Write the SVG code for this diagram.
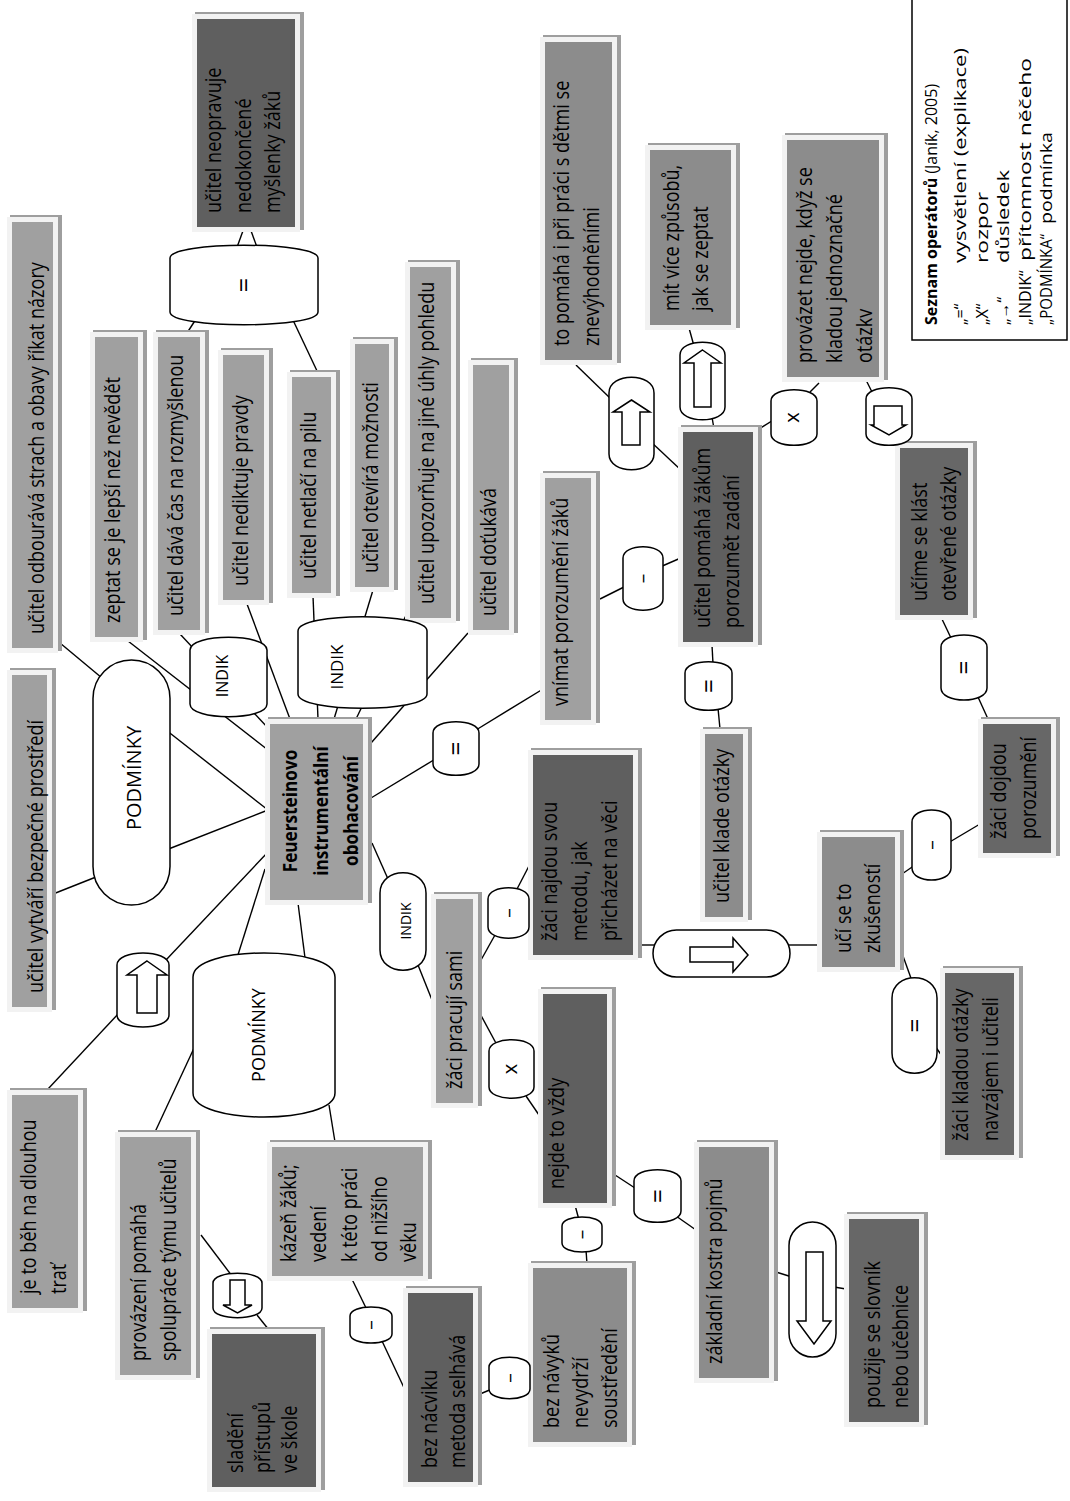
<svg xmlns="http://www.w3.org/2000/svg" width="1070" height="1501" viewBox="0 0 1070 1501">
<style>
.sh{fill:#9e9e9e}
.fr{fill:#f2f2f2}
.l{fill:#a0a0a0}
.m{fill:#8c8c8c}
.d{fill:#5f5f5f}
.d2{fill:#676767}
.t{font-family:"Open Sans","Noto Sans",sans-serif;font-size:21px;fill:#000}
.b{font-weight:bold;font-size:20px}
.o{fill:#fff;stroke:#000;stroke-width:1.5}
.ot{font-family:"Open Sans","Noto Sans",sans-serif;fill:#000;text-anchor:middle}
.lg{font-family:"Open Sans","Noto Sans",sans-serif;font-size:16px;fill:#000}
#connectors line{stroke:#000;stroke-width:1.4}
</style>
<rect width="1070" height="1501" fill="#fff"/>
<g id="connectors">
<line x1="236" y1="250" x2="244" y2="228"/>
<line x1="258" y1="250" x2="250" y2="228"/>
<line x1="187" y1="333" x2="198" y2="316"/>
<line x1="292" y1="318" x2="318" y2="373"/>
<line x1="60" y1="643" x2="102" y2="678"/>
<line x1="48" y1="896" x2="96" y2="877"/>
<line x1="268" y1="810" x2="166" y2="730"/>
<line x1="268" y1="810" x2="166" y2="850"/>
<line x1="128" y1="641" x2="268" y2="750"/>
<line x1="180" y1="634" x2="268" y2="728"/>
<line x1="244" y1="596" x2="290" y2="719"/>
<line x1="313" y1="596" x2="318" y2="719"/>
<line x1="373" y1="590" x2="334" y2="719"/>
<line x1="412" y1="603" x2="356" y2="719"/>
<line x1="468" y1="633" x2="371" y2="743"/>
<line x1="476" y1="730" x2="543" y2="689"/>
<line x1="371" y1="798" x2="437" y2="758"/>
<line x1="600" y1="599" x2="626" y2="586"/>
<line x1="660" y1="567" x2="683" y2="557"/>
<line x1="682" y1="471" x2="650" y2="441"/>
<line x1="611" y1="399" x2="576" y2="365"/>
<line x1="689" y1="328" x2="694" y2="346"/>
<line x1="712" y1="417" x2="714" y2="429"/>
<line x1="759" y1="429" x2="775" y2="419"/>
<line x1="810" y1="392" x2="819" y2="383"/>
<line x1="866" y1="380" x2="872" y2="392"/>
<line x1="712" y1="645" x2="713" y2="664"/>
<line x1="718" y1="708" x2="720" y2="729"/>
<line x1="941" y1="617" x2="951" y2="638"/>
<line x1="978" y1="697" x2="988" y2="719"/>
<line x1="902" y1="874" x2="915" y2="865"/>
<line x1="948" y1="843" x2="980" y2="824"/>
<line x1="903" y1="956" x2="912" y2="981"/>
<line x1="935" y1="1046" x2="942" y2="1056"/>
<line x1="788" y1="945" x2="819" y2="945"/>
<line x1="640" y1="945" x2="655" y2="945"/>
<line x1="481" y1="960" x2="495" y2="935"/>
<line x1="516" y1="891" x2="530" y2="864"/>
<line x1="477" y1="1008" x2="497" y2="1045"/>
<line x1="526" y1="1096" x2="539" y2="1115"/>
<line x1="372" y1="843" x2="388" y2="879"/>
<line x1="418" y1="965" x2="432" y2="1000"/>
<line x1="575" y1="1205" x2="579" y2="1220"/>
<line x1="586" y1="1250" x2="587" y2="1264"/>
<line x1="612" y1="1173" x2="638" y2="1190"/>
<line x1="676" y1="1216" x2="696" y2="1230"/>
<line x1="776" y1="1272" x2="792" y2="1277"/>
<line x1="834" y1="1287" x2="846" y2="1289"/>
<line x1="480" y1="1394" x2="492" y2="1389"/>
<line x1="349" y1="1273" x2="367" y2="1310"/>
<line x1="382" y1="1341" x2="406" y2="1392"/>
<line x1="201" y1="1235" x2="232" y2="1276"/>
<line x1="257" y1="1315" x2="269" y2="1330"/>
<line x1="265" y1="869" x2="237" y2="958"/>
<line x1="298" y1="903" x2="305" y2="958"/>
<line x1="195" y1="1046" x2="155" y2="1132"/>
<line x1="329" y1="1105" x2="335" y2="1142"/>
<line x1="268" y1="852" x2="166" y2="960"/>
<line x1="119" y1="1013" x2="48" y2="1089"/>
</g>

<g id="n-neopravuje"><rect class="sh" x="195" y="12" width="109" height="218"/><rect class="fr" x="192" y="14" width="108" height="218"/><rect class="d" x="197" y="19" width="98" height="208"/>
<text class="t" transform="translate(221,213) rotate(-90) scale(0.86,1)"><tspan x="0" y="0">učitel neopravuje</tspan><tspan x="0" y="30">nedokončené</tspan><tspan x="0" y="59">myšlenky žáků</tspan></text></g>
<g id="n-odbourava"><rect class="sh" x="10" y="215" width="52" height="436"/><rect class="fr" x="7" y="217" width="51" height="436"/><rect class="l" x="12" y="222" width="41" height="426"/>
<text class="t" transform="translate(44,634) rotate(-90) scale(0.86,1)">učitel odbourává strach a obavy říkat názory</text></g>
<g id="n-zeptat"><rect class="sh" x="93" y="330" width="54" height="310"/><rect class="fr" x="90" y="332" width="53" height="310"/><rect class="l" x="95" y="337" width="43" height="300"/>
<text class="t" transform="translate(120,623) rotate(-90) scale(0.86,1)">zeptat se je lepší než nevědět</text></g>
<g id="n-cas"><rect class="sh" x="156" y="330" width="53" height="303"/><rect class="fr" x="153" y="332" width="52" height="303"/><rect class="l" x="158" y="337" width="42" height="293"/>
<text class="t" transform="translate(183,616) rotate(-90) scale(0.86,1)">učitel dává čas na rozmyšlenou</text></g>
<g id="n-nediktuje"><rect class="sh" x="221" y="348" width="52" height="255"/><rect class="fr" x="218" y="350" width="51" height="255"/><rect class="l" x="223" y="355" width="41" height="245"/>
<text class="t" transform="translate(248,586) rotate(-90) scale(0.86,1)">učitel nediktuje pravdy</text></g>
<g id="n-netlaci"><rect class="sh" x="290" y="370" width="50" height="226"/><rect class="fr" x="287" y="372" width="49" height="226"/><rect class="l" x="292" y="377" width="39" height="216"/>
<text class="t" transform="translate(316,579) rotate(-90) scale(0.86,1)">učitel netlačí na pilu</text></g>
<g id="n-otevira"><rect class="sh" x="353" y="337" width="45" height="253"/><rect class="fr" x="350" y="339" width="44" height="253"/><rect class="l" x="355" y="344" width="34" height="243"/>
<text class="t" transform="translate(378,573) rotate(-90) scale(0.86,1)">učitel otevírá možnosti</text></g>
<g id="n-upozornuje"><rect class="sh" x="408" y="260" width="52" height="361"/><rect class="fr" x="405" y="262" width="51" height="361"/><rect class="l" x="410" y="267" width="41" height="351"/>
<text class="t" transform="translate(434,604) rotate(-90) scale(0.86,1)">učitel upozorňuje na jiné úhly pohledu</text></g>
<g id="n-dotukava"><rect class="sh" x="471" y="358" width="47" height="275"/><rect class="fr" x="468" y="360" width="46" height="275"/><rect class="l" x="473" y="365" width="36" height="265"/>
<text class="t" transform="translate(496,616) rotate(-90) scale(0.86,1)">učitel doťukává</text></g>
<g id="n-topomaha"><rect class="sh" x="543" y="35" width="78" height="328"/><rect class="fr" x="540" y="37" width="77" height="328"/><rect class="m" x="545" y="42" width="67" height="318"/>
<text class="t" transform="translate(569,346) rotate(-90) scale(0.86,1)"><tspan x="0" y="0">to pomáhá i při práci s dětmi se</tspan><tspan x="0" y="30">znevýhodněními</tspan></text></g>
<g id="n-zpusobu"><rect class="sh" x="648" y="143" width="92" height="185"/><rect class="fr" x="645" y="145" width="91" height="185"/><rect class="m" x="650" y="150" width="81" height="175"/>
<text class="t" transform="translate(679,311) rotate(-90) scale(0.86,1)"><tspan x="0" y="0">mít více způsobů,</tspan><tspan x="0" y="29">jak se zeptat</tspan></text></g>
<g id="n-provazet"><rect class="sh" x="785" y="133" width="103" height="247"/><rect class="fr" x="782" y="135" width="102" height="247"/><rect class="m" x="787" y="140" width="92" height="237"/>
<text class="t" transform="translate(812,363) rotate(-90) scale(0.86,1)"><tspan x="0" y="0">provázet nejde, když se</tspan><tspan x="0" y="30">kladou jednoznačné</tspan><tspan x="0" y="60">otázkv</tspan></text></g>
<g id="n-pomahazakum"><rect class="sh" x="681" y="425" width="81" height="220"/><rect class="fr" x="678" y="427" width="80" height="220"/><rect class="d" x="683" y="432" width="70" height="210"/>
<text class="t" transform="translate(710,628) rotate(-90) scale(0.86,1)"><tspan x="0" y="0">učitel pomáhá žákům</tspan><tspan x="0" y="29">porozumět zadání</tspan></text></g>
<g id="n-ucime"><rect class="sh" x="898" y="441" width="79" height="177"/><rect class="fr" x="895" y="443" width="78" height="177"/><rect class="d2" x="900" y="448" width="68" height="167"/>
<text class="t" transform="translate(927,601) rotate(-90) scale(0.86,1)"><tspan x="0" y="0">učíme se klást</tspan><tspan x="0" y="29">otevřené otázky</tspan></text></g>
<g id="n-vnimat"><rect class="sh" x="543" y="471" width="57" height="252"/><rect class="fr" x="540" y="473" width="56" height="252"/><rect class="l" x="545" y="478" width="46" height="242"/>
<text class="t" transform="translate(568,706) rotate(-90) scale(0.86,1)">vnímat porozumění žáků</text></g>
<g id="n-central"><rect class="sh" x="268" y="717" width="104" height="186"/><rect class="fr" x="265" y="719" width="103" height="186"/><rect class="l" x="270" y="724" width="93" height="176"/>
<text class="t b" text-anchor="middle" transform="translate(297,811) rotate(-90) scale(0.86,1)"><tspan x="0" y="0">Feuersteinovo</tspan><tspan x="0" y="31">instrumentální</tspan><tspan x="0" y="61">obohacování</tspan></text></g>
<g id="n-najdou"><rect class="sh" x="531" y="748" width="111" height="210"/><rect class="fr" x="528" y="750" width="110" height="210"/><rect class="d" x="533" y="755" width="100" height="200"/>
<text class="t" transform="translate(557,941) rotate(-90) scale(0.86,1)"><tspan x="0" y="0">žáci najdou svou</tspan><tspan x="0" y="30">metodu, jak</tspan><tspan x="0" y="60">přicházet na věci</tspan></text></g>
<g id="n-sami"><rect class="sh" x="434" y="892" width="48" height="214"/><rect class="fr" x="431" y="894" width="47" height="214"/><rect class="l" x="436" y="899" width="37" height="204"/>
<text class="t" transform="translate(462,1089) rotate(-90) scale(0.86,1)">žáci pracují sami</text></g>
<g id="n-nejde"><rect class="sh" x="541" y="987" width="75" height="219"/><rect class="fr" x="538" y="989" width="74" height="219"/><rect class="d" x="543" y="994" width="64" height="209"/>
<text class="t" transform="translate(564,1189) rotate(-90) scale(0.86,1)">nejde to vždy</text></g>
<g id="n-klade"><rect class="sh" x="703" y="727" width="49" height="193"/><rect class="fr" x="700" y="729" width="48" height="193"/><rect class="m" x="705" y="734" width="38" height="183"/>
<text class="t" transform="translate(729,903) rotate(-90) scale(0.86,1)">učitel klade otázky</text></g>
<g id="n-zkusenost"><rect class="sh" x="820" y="830" width="84" height="140"/><rect class="fr" x="817" y="832" width="83" height="140"/><rect class="m" x="822" y="837" width="73" height="130"/>
<text class="t" transform="translate(851,953) rotate(-90) scale(0.86,1)"><tspan x="0" y="0">učí se to</tspan><tspan x="0" y="29">zkušeností</tspan></text></g>
<g id="n-dojdou"><rect class="sh" x="981" y="717" width="79" height="139"/><rect class="fr" x="978" y="719" width="78" height="139"/><rect class="d2" x="983" y="724" width="68" height="129"/>
<text class="t" transform="translate(1006,839) rotate(-90) scale(0.86,1)"><tspan x="0" y="0">žáci dojdou</tspan><tspan x="0" y="30">porozumění</tspan></text></g>
<g id="n-kladou"><rect class="sh" x="943" y="966" width="80" height="192"/><rect class="fr" x="940" y="968" width="79" height="192"/><rect class="d2" x="945" y="973" width="69" height="182"/>
<text class="t" transform="translate(968,1141) rotate(-90) scale(0.86,1)"><tspan x="0" y="0">žáci kladou otázky</tspan><tspan x="0" y="30">navzájem i učiteli</tspan></text></g>
<g id="n-kostra"><rect class="sh" x="697" y="1140" width="81" height="241"/><rect class="fr" x="694" y="1142" width="80" height="241"/><rect class="m" x="699" y="1147" width="70" height="231"/>
<text class="t" transform="translate(722,1364) rotate(-90) scale(0.86,1)">základní kostra pojmů</text></g>
<g id="n-slovnik"><rect class="sh" x="847" y="1212" width="81" height="213"/><rect class="fr" x="844" y="1214" width="80" height="213"/><rect class="d2" x="849" y="1219" width="70" height="203"/>
<text class="t" transform="translate(880,1408) rotate(-90) scale(0.86,1)"><tspan x="0" y="0">použije se slovník</tspan><tspan x="0" y="28">nebo učebnice</tspan></text></g>
<g id="n-navyku"><rect class="sh" x="531" y="1261" width="105" height="184"/><rect class="fr" x="528" y="1263" width="104" height="184"/><rect class="m" x="533" y="1268" width="94" height="174"/>
<text class="t" transform="translate(559,1428) rotate(-90) scale(0.86,1)"><tspan x="0" y="0">bez návyků</tspan><tspan x="0" y="29">nevydrží</tspan><tspan x="0" y="58">soustředění</tspan></text></g>
<g id="n-nacviku"><rect class="sh" x="406" y="1286" width="76" height="199"/><rect class="fr" x="403" y="1288" width="75" height="199"/><rect class="d" x="408" y="1293" width="65" height="189"/>
<text class="t" transform="translate(437,1468) rotate(-90) scale(0.86,1)"><tspan x="0" y="0">bez nácviku</tspan><tspan x="0" y="28">metoda selhává</tspan></text></g>
<g id="n-kazen"><rect class="sh" x="270" y="1140" width="162" height="139"/><rect class="fr" x="267" y="1142" width="161" height="139"/><rect class="l" x="272" y="1147" width="151" height="129"/>
<text class="t" transform="translate(296,1262) rotate(-90) scale(0.86,1)"><tspan x="0" y="0">kázeň žáků;</tspan><tspan x="0" y="30">vedení</tspan><tspan x="0" y="61">k této práci</tspan><tspan x="0" y="91">od nižšího</tspan><tspan x="0" y="120">věku</tspan></text></g>
<g id="n-provazeni"><rect class="sh" x="118" y="1130" width="82" height="248"/><rect class="fr" x="115" y="1132" width="81" height="248"/><rect class="l" x="120" y="1137" width="71" height="238"/>
<text class="t" transform="translate(146,1361) rotate(-90) scale(0.86,1)"><tspan x="0" y="0">provázení pomáhá</tspan><tspan x="0" y="30">spolupráce týmu učitelů</tspan></text></g>
<g id="n-sladeni"><rect class="sh" x="210" y="1327" width="115" height="163"/><rect class="fr" x="207" y="1329" width="114" height="163"/><rect class="d" x="212" y="1334" width="104" height="153"/>
<text class="t" transform="translate(243,1473) rotate(-90) scale(0.86,1)"><tspan x="0" y="0">sladění</tspan><tspan x="0" y="27">přístupů</tspan><tspan x="0" y="54">ve škole</tspan></text></g>
<g id="n-beh"><rect class="sh" x="10" y="1088" width="77" height="223"/><rect class="fr" x="7" y="1090" width="76" height="223"/><rect class="l" x="12" y="1095" width="66" height="213"/>
<text class="t" transform="translate(36,1294) rotate(-90) scale(0.86,1)"><tspan x="0" y="0">je to běh na dlouhou</tspan><tspan x="0" y="30">trať</tspan></text></g>
<g id="n-bezpecne"><rect class="sh" x="10" y="668" width="46" height="342"/><rect class="fr" x="7" y="670" width="45" height="342"/><rect class="l" x="12" y="675" width="35" height="332"/>
<text class="t" transform="translate(43,993) rotate(-90) scale(0.86,1)">učitel vytváří bezpečné prostředí</text></g>

<g id="op-eq1"><path class="o" d="M170,258 C170,241 318,241 318,258 L318,312 C318,329 170,329 170,312 Z"/><text class="ot" font-size="26" transform="translate(253,285) rotate(-90)">=</text></g>
<g id="op-podminky1"><rect class="o" x="93" y="660" width="77" height="245" rx="38.5"/><text class="ot" font-size="20" transform="translate(141,778) rotate(-90)">PODMÍNKY</text></g>
<g id="op-indik1"><path class="o" d="M190,650 C190,633 267,633 267,650 L267,704 C267,721 190,721 190,704 Z"/><text class="ot" font-size="16" transform="translate(228,676) rotate(-90)">INDIK</text></g>
<g id="op-indik2"><path class="o" d="M298,631 C298,612 427,612 427,631 L427,694 C427,713 298,713 298,694 Z"/><text class="ot" font-size="17" transform="translate(343,667) rotate(-90)">INDIK</text></g>
<g id="op-eq2"><path class="o" d="M433,733 C433,718 479,718 479,733 L479,764 C479,779 433,779 433,764 Z"/><text class="ot" font-size="25" transform="translate(465,748.5) rotate(-90)">=</text></g>
<g id="op-dash1"><path class="o" d="M623,558 C623,543 663,543 663,558 L663,599 C663,614 623,614 623,599 Z"/><text class="ot" font-size="19" transform="translate(649,578.5) rotate(-90)">–</text></g>
<g id="op-eq3"><path class="o" d="M685,673 C685,658 732,658 732,673 L732,699 C732,714 685,714 685,699 Z"/><text class="ot" font-size="25" transform="translate(717.5,686) rotate(-90)">=</text></g>
<g id="op-x1"><path class="o" d="M771,401 C771,386 817,386 817,401 L817,434 C817,449 771,449 771,434 Z"/><text class="ot" font-size="20" transform="translate(799,417.5) rotate(-90)">x</text></g>
<g id="op-down1"><path class="o" d="M866,399 C866,384 912,384 912,399 L912,434 C912,449 866,449 866,434 Z"/><polygon class="o" points="874,406 902,406 902,425 906,425 889,435 871,425 874,425"/></g>
<g id="op-eq4"><path class="o" d="M941,647 C941,631 987,631 987,647 L987,688 C987,704 941,704 941,688 Z"/><text class="ot" font-size="25" transform="translate(973,667.5) rotate(-90)">=</text></g>
<g id="op-dash2"><path class="o" d="M912,822 C912,806 951,806 951,822 L951,868 C951,884 912,884 912,868 Z"/><text class="ot" font-size="19" transform="translate(937.5,845) rotate(-90)">–</text></g>
<g id="op-eq5"><path class="o" d="M892,998 C892,971 937,971 937,998 L937,1053 C937,1080 892,1080 892,1053 Z"/><text class="ot" font-size="25" transform="translate(923.5,1025.5) rotate(-90)">=</text></g>
<g id="op-right"><rect class="o" x="653" y="930" width="137" height="47" rx="23.5"/><polygon class="o" points="690,947 733,947 733,938 748,955 733,972 733,962 690,962"/></g>
<g id="op-dash3"><path class="o" d="M488,899 C488,884 529,884 529,899 L529,927 C529,942 488,942 488,927 Z"/><text class="ot" font-size="19" transform="translate(514.5,913) rotate(-90)">–</text></g>
<g id="op-x2"><path class="o" d="M489,1051 C489,1036 534,1036 534,1051 L534,1087 C534,1102 489,1102 489,1087 Z"/><text class="ot" font-size="20" transform="translate(516.5,1069) rotate(-90)">x</text></g>
<g id="op-indik3"><path class="o" d="M380,893 C380,866 426,866 426,893 L426,950 C426,977 380,977 380,950 Z"/><text class="ot" font-size="14" transform="translate(411,921) rotate(-90)">INDIK</text></g>
<g id="op-dash4"><path class="o" d="M562,1226 C562,1214 602,1214 602,1226 L602,1243 C602,1255 562,1255 562,1243 Z"/><text class="ot" font-size="19" transform="translate(588,1234.5) rotate(-90)">–</text></g>
<g id="op-eq6"><path class="o" d="M634,1181 C634,1166 681,1166 681,1181 L681,1211 C681,1226 634,1226 634,1211 Z"/><text class="ot" font-size="25" transform="translate(666.5,1196) rotate(-90)">=</text></g>
<g id="op-down2"><rect class="o" x="789" y="1222" width="47" height="135" rx="23.5"/><polygon class="o" points="806,1252 823,1252 823,1321 831,1321 814,1344 797,1321 806,1321"/></g>
<g id="op-dash5"><path class="o" d="M489,1367 C489,1354 530,1354 530,1367 L530,1389 C530,1402 489,1402 489,1389 Z"/><text class="ot" font-size="19" transform="translate(515.5,1378) rotate(-90)">–</text></g>
<g id="op-dash6"><path class="o" d="M350,1316 C350,1304 392,1304 392,1316 L392,1334 C392,1346 350,1346 350,1334 Z"/><text class="ot" font-size="19" transform="translate(377,1325) rotate(-90)">–</text></g>
<g id="op-down3"><path class="o" d="M213,1283 C213,1270 262,1270 262,1283 L262,1308 C262,1321 213,1321 213,1308 Z"/><polygon class="o" points="230,1280 245,1280 245,1305 252,1305 237.5,1313 223,1305 230,1305"/></g>
<g id="op-up1"><path class="o" d="M117,965 C117,949 169,949 169,965 L169,1015 C169,1031 117,1031 117,1015 Z"/><polygon class="o" points="147,961 167,975 157,975 157,1013 137,1013 137,975 127,975"/></g>
<g id="op-podminky2"><path class="o" d="M193,977 C193,945 335,945 335,977 L335,1093 C335,1125 193,1125 193,1093 Z"/><text class="ot" font-size="18" transform="translate(265,1035) rotate(-90)">PODMÍNKY</text></g>
<g id="op-up2"><path class="o" d="M609,393 C609,372 654,372 654,393 L654,454 C654,475 609,475 609,454 Z"/><polygon class="o" points="631.5,400 650,412 640,412 640,445 622,445 622,412 613,412"/></g>
<g id="op-up3"><path class="o" d="M680,355 C680,338 725,338 725,355 L725,407 C725,424 680,424 680,407 Z"/><polygon class="o" points="702.5,350 721,363 711,363 711,407 694,407 694,363 684,363"/></g>

<g id="legend">
<rect x="912" y="-2" width="155" height="342" fill="#fff" stroke="#000" stroke-width="1.5"/>
<text class="lg" transform="translate(937,325) rotate(-90)"><tspan font-weight="bold">Seznam operátorů</tspan> (Janík, 2005)</text>
<text class="lg" transform="translate(966,325) rotate(-90)">„=“</text>
<text class="lg" transform="translate(966,263) rotate(-90)" textLength="215" lengthAdjust="spacingAndGlyphs">vysvětlení (explikace)</text>
<text class="lg" transform="translate(987.5,325) rotate(-90)">„X“</text>
<text class="lg" transform="translate(987.5,263) rotate(-90)" textLength="71" lengthAdjust="spacingAndGlyphs">rozpor</text>
<text class="lg" transform="translate(1009,325) rotate(-90)">„→“</text>
<text class="lg" transform="translate(1009,263) rotate(-90)" textLength="93" lengthAdjust="spacingAndGlyphs">důsledek</text>
<text class="lg" transform="translate(1030.5,325) rotate(-90)">„INDIK“</text>
<text class="lg" transform="translate(1030.5,261) rotate(-90)" textLength="203" lengthAdjust="spacingAndGlyphs">přítomnost něčeho</text>
<text class="lg" transform="translate(1052,325) rotate(-90)" textLength="91" lengthAdjust="spacingAndGlyphs">„PODMÍNKA“</text>
<text class="lg" transform="translate(1052,224) rotate(-90)" textLength="92" lengthAdjust="spacingAndGlyphs">podmínka</text>
</g>
</svg>
